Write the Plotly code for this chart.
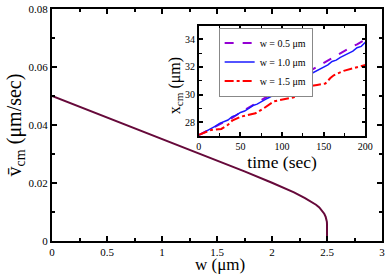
import plotly.graph_objects as go

# Main curve: mean velocity vs w
w_vals = [0, 0.25, 0.5, 0.75, 1.0, 1.25, 1.5, 1.75, 2.0, 2.1, 2.2, 2.3, 2.35, 2.4, 2.43, 2.455, 2.475, 2.488, 2.495, 2.499, 2.5, 2.5]
v_vals = [0.050, 0.0463, 0.0427, 0.0389, 0.0351, 0.0314, 0.0278, 0.0240, 0.0201, 0.0185, 0.0168, 0.0148, 0.0137, 0.0125, 0.0116, 0.0105, 0.0094, 0.0083, 0.0074, 0.0066, 0.0058, 0.0]

# Inset: x_cm vs time
t_purple = [0, 10, 20, 30, 40, 50, 60, 70, 80, 90, 100, 110, 120, 130, 140, 150, 160, 170, 180, 190, 200]
x_purple = [27.05, 27.35, 27.65, 27.95, 28.3, 28.7, 29.05, 29.4, 29.75, 30.1, 30.5, 30.85, 31.2, 31.6, 31.95, 32.35, 32.7, 33.0, 33.35, 33.65, 34.0]

t_blue = [0, 5, 10, 15, 20, 25, 30, 35, 40, 45, 50, 55, 60, 65, 70, 75, 80, 85, 90, 95, 100,
          105, 110, 115, 120, 125, 130, 135, 140, 145, 150, 155, 160, 165, 170, 175, 180, 185, 190, 195, 200]
x_blue = [27.05, 27.2, 27.35, 27.55, 27.7, 27.9, 28.0, 28.15, 28.4, 28.5, 28.7, 28.8, 29.0, 29.2, 29.3, 29.5, 29.65, 29.8, 30.0, 30.15, 30.35,
          30.5, 30.65, 30.9, 31.0, 31.2, 31.35, 31.5, 31.7, 31.85, 32.0, 32.15, 32.4, 32.5, 32.7, 32.85, 33.05, 33.15, 33.4, 33.5, 33.8]

t_red = [0, 15, 27, 35, 40, 51, 68, 78, 90, 102, 114, 122, 130, 142, 152, 158, 162, 174, 185, 200]
x_red = [27.07, 27.43, 27.5, 27.8, 28.1, 28.4, 28.64, 29.0, 29.5, 29.67, 29.8, 30.2, 30.57, 30.69, 30.8, 31.2, 31.4, 31.72, 31.9, 32.15]

legend_names = ["w = 0.5 \u03bcm", "w = 1.0 \u03bcm", "w = 1.5 \u03bcm"]

FONT = "Liberation Serif"

fig = go.Figure()
fig.add_trace(go.Scatter(x=w_vals, y=v_vals, mode="lines", line=dict(color="#66093a", width=2),
                         showlegend=False, xaxis="x", yaxis="y"))
fig.add_trace(go.Scatter(x=t_purple, y=x_purple, mode="lines", name=legend_names[0],
                         line=dict(color="#9400D3", width=2, dash="dash"), xaxis="x2", yaxis="y2"))
fig.add_trace(go.Scatter(x=t_blue, y=x_blue, mode="lines", name=legend_names[1],
                         line=dict(color="#1a1aff", width=1.5), xaxis="x2", yaxis="y2"))
fig.add_trace(go.Scatter(x=t_red, y=x_red, mode="lines", name=legend_names[2],
                         line=dict(color="#ff0000", width=2, dash="dashdot"), xaxis="x2", yaxis="y2"))

axis_common = dict(showgrid=False, zeroline=False, showline=True, linecolor="black",
                   mirror="ticks", ticks="inside", tickcolor="black", ticklabeloverflow="allow")

fig.update_layout(
    width=392, height=275,
    margin=dict(l=52, r=3, t=5, b=34),
    paper_bgcolor="white", plot_bgcolor="white",
    font=dict(family=FONT, color="black", size=11),
    xaxis=dict(domain=[0, 1], range=[0, 3], dtick=0.5, tick0=0, ticklen=5, linewidth=2, tickwidth=2,
               minor=dict(dtick=0.25, ticklen=3, ticks="inside", tickcolor="black", tickwidth=1.5),
               tickfont=dict(size=11), **axis_common),
    yaxis=dict(domain=[0, 1], range=[0, 0.08], dtick=0.02, tick0=0, ticklen=5, linewidth=2, tickwidth=2,
               minor=dict(dtick=0.01, ticklen=3, ticks="inside", tickcolor="black", tickwidth=1.5),
               title=dict(text="v\u0304<sub>cm</sub> (\u03bcm/sec)", font=dict(size=20), standoff=2),
               tickfont=dict(size=11), **axis_common),
    xaxis2=dict(domain=[0.445, 0.9496], anchor="y2", range=[0, 200], dtick=50, tick0=0, ticklen=4,
                linewidth=1.5, tickwidth=1.5,
                minor=dict(dtick=25, ticklen=3, ticks="inside", tickcolor="black", tickwidth=1),
                title=dict(text="time (sec)", font=dict(size=17.5), standoff=0),
                tickfont=dict(size=10), **axis_common),
    yaxis2=dict(domain=[0.4534, 0.928], anchor="x2", range=[27, 35], tickvals=[28, 30, 32, 34], ticklen=4,
                linewidth=1.5, tickwidth=1.5,
                minor=dict(dtick=1, tick0=27, ticklen=3, ticks="inside", tickcolor="black", tickwidth=1),
                tickfont=dict(size=10), **axis_common),
    legend=dict(x=0.505, y=0.92, xanchor="left", yanchor="top", bgcolor="white",
                bordercolor="#888888", borderwidth=1, font=dict(size=10, family=FONT),
                tracegroupgap=0, itemwidth=30),
)

fig.add_annotation(text="w (\u03bcm)", xref="paper", yref="paper",
                   x=0.51, y=-0.102, xanchor="center", yanchor="middle", showarrow=False,
                   font=dict(size=17, family=FONT, color="black"))
fig.add_annotation(text="x<sub>cm</sub> (\u03bcm)", textangle=-90, xref="paper", yref="paper",
                   x=0.374, y=0.669, xanchor="center", yanchor="middle", showarrow=False,
                   font=dict(size=16, family=FONT, color="black"))

fig.write_html("out.html", config={"displayModeBar": False},
               post_script="document.body.style.margin='0';document.body.style.padding='0';document.body.style.overflow='hidden';")
